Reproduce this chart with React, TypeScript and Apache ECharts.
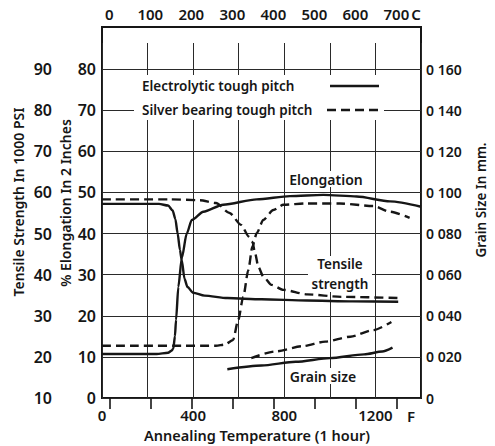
import React, { useEffect, useRef } from "react";
import * as echarts from "echarts";

// Annealing temperature (F) and values
const elecTensileTemp = [0, 250, 290, 310, 322, 332, 342, 350, 362, 375, 400, 450, 550, 700, 900, 1100, 1300];
const elecTensile = [57.2, 57.2, 56.8, 55.6, 53.5, 50.0, 46.0, 43.5, 39.0, 37.0, 35.6, 34.9, 34.3, 34.0, 33.7, 33.5, 33.4];

const silverTensileTemp = [0, 300, 430, 500, 560, 610, 645, 660, 672, 686, 708, 744, 796, 900, 1050, 1300];
const silverTensile = [58.3, 58.3, 58.1, 57.4, 55.0, 52.1, 49.2, 48.0, 45.2, 41.9, 39.5, 37.5, 36.3, 35.2, 34.6, 34.3];

const elecElongTemp = [0, 240, 290, 305, 313, 320, 325, 335, 350, 372, 394, 445, 532, 679, 825, 971, 1118, 1264, 1400];
const elecElong = [10.7, 10.7, 11.0, 11.5, 12.0, 15.0, 19.0, 27.0, 34.0, 40.0, 43.3, 45.3, 47.0, 48.3, 49.1, 49.4, 49.0, 47.8, 46.5];

const silverElongTemp = [0, 500, 540, 575, 598, 620, 642, 660, 679, 708, 752, 796, 898, 1044, 1190, 1264, 1350];
const silverElong = [12.7, 12.7, 13.0, 14.1, 19.0, 24.6, 31.1, 36.8, 40.1, 43.3, 45.7, 47.0, 47.3, 47.3, 46.7, 45.3, 43.8];

const elecGrainTemp = [550, 700, 850, 1000, 1150, 1230, 1275];
const elecGrain = [0.014, 0.0158, 0.0176, 0.0194, 0.0212, 0.0226, 0.0245];

const silverGrainTemp = [655, 760, 880, 980, 1090, 1190, 1270];
const silverGrain = [0.0194, 0.0226, 0.0252, 0.0274, 0.0298, 0.033, 0.037];

const elongTicks = [0, 80, 10];
const tensileTicks = [10, 90, 10];
const grainTicks = [0, 0.16, 0.02];
const celsiusTicks = [0, 700, 100];

const FONT = "Noto Sans";
const INK = "#161616";
const W = 600;

const zip = (xs: number[], ys: number[]) => xs.map((x, i) => [x, ys[i]]);

function buildOption() {
  const L = 102, R = 74, B = 48;
  const lineSolid = { color: INK, width: 2.4, type: "solid" as const };
  const lineDash = { color: INK, width: 2.4, type: [9, 5] as any };
  const mk = (name: string, xs: number[], ys: number[], yIdx: number, dashed: boolean) => ({
    name,
    type: "line",
    xAxisIndex: 1,
    yAxisIndex: yIdx,
    data: zip(xs, ys),
    showSymbol: false,
    smooth: 0.25,
    smoothMonotone: "x",
    lineStyle: dashed ? lineDash : lineSolid,
    z: 3,
  });
  const txt = (text: string, x: number, y: number, size: number, rot = 0, align = "center") => ({
    type: "text",
    x,
    y,
    rotation: rot,
    z: 10,
    style: { text, fill: INK, font: `${W} ${size}px "${FONT}"`, textAlign: align, textVerticalAlign: "middle" },
  });
  const white = (x: number, y: number, w: number, h: number) => ({
    type: "rect",
    z: 9,
    shape: { x, y, width: w, height: h },
    style: { fill: "#fff" },
  });
  const grainFmt = (v: number) => {
    const n = Math.round(v * 1000);
    return n === 0 ? "0" : "0 " + String(n).padStart(3, "0");
  };
  const lbl = (size: number, margin: number, extra: any = {}) => ({
    margin, color: INK, fontFamily: FONT, fontSize: size, fontWeight: W, ...extra,
  });
  return {
    animation: false,
    backgroundColor: "#fff",
    grid: [
      { left: L, right: R, top: 27, bottom: B, show: true, borderColor: INK, borderWidth: 2, backgroundColor: "transparent" },
      { left: L, right: R, top: 69, bottom: B },
      { left: L, right: R, top: 43, bottom: B },
      { left: 109.3, right: 98.6, top: 27, bottom: B },
    ],
    xAxis: [
      {
        gridIndex: 0, type: "value", min: 0, max: 1400, interval: 200,
        axisLine: { show: false }, axisTick: { show: false }, splitLine: { show: false },
        axisLabel: lbl(15, 9, { formatter: (v: number) => (v % 400 === 0 && v < 1400 ? String(v) : "") }),
      },
      { gridIndex: 1, type: "value", min: 0, max: 1400, show: false },
      {
        gridIndex: 2, type: "value", min: 0, max: 1400, interval: 200,
        axisLine: { show: false }, axisTick: { show: false }, axisLabel: { show: false },
        splitLine: { show: true, lineStyle: { color: "#2a2a2a", width: 1 } },
      },
      {
        gridIndex: 3, type: "value", position: "top", min: celsiusTicks[0], max: celsiusTicks[1], interval: celsiusTicks[2],
        axisLine: { show: false }, splitLine: { show: false },
        axisTick: { show: true, inside: true, length: 11, lineStyle: { color: INK, width: 1.6 } },
        axisLabel: lbl(15, 6),
      },
    ],
    yAxis: [
      { gridIndex: 0, type: "value", min: 0, max: 1, show: false },
      {
        gridIndex: 1, type: "value", position: "left", min: elongTicks[0], max: elongTicks[1], interval: elongTicks[2],
        axisLine: { show: false }, axisTick: { show: false },
        splitLine: { show: true, lineStyle: { color: "#2a2a2a", width: 1 } },
        axisLabel: lbl(16, 6),
      },
      {
        gridIndex: 1, type: "value", position: "left", offset: 44, min: tensileTicks[0], max: tensileTicks[1], interval: tensileTicks[2],
        axisLine: { show: false }, axisTick: { show: false }, splitLine: { show: false },
        axisLabel: lbl(16, 6),
      },
      {
        gridIndex: 1, type: "value", position: "right", min: grainTicks[0], max: grainTicks[1], interval: grainTicks[2],
        axisLine: { show: false }, axisTick: { show: false }, splitLine: { show: false },
        axisLabel: lbl(14, 5, { formatter: grainFmt }),
      },
      { gridIndex: 2, type: "value", min: 0, max: 1, show: false },
      { gridIndex: 3, type: "value", min: 0, max: 1, show: false },
    ],
    series: [
      mk("Electrolytic tensile", elecTensileTemp, elecTensile, 2, false),
      mk("Silver tensile", silverTensileTemp, silverTensile, 2, true),
      mk("Electrolytic elongation", elecElongTemp, elecElong, 1, false),
      mk("Silver elongation", silverElongTemp, silverElong, 1, true),
      mk("Electrolytic grain", elecGrainTemp, elecGrain, 3, false),
      mk("Silver grain", silverGrainTemp, silverGrain, 3, true),
    ],
    graphic: [
      // legend block
      white(134, 75, 250, 45),
      txt("Electrolytic tough pitch", 142, 86, 13.5, 0, "left"),
      txt("Silver bearing tough pitch", 142, 110, 13.5, 0, "left"),
      { type: "line", z: 10, shape: { x1: 330, y1: 86, x2: 379, y2: 86 }, style: { stroke: INK, lineWidth: 2.4 } },
      { type: "line", z: 10, shape: { x1: 327, y1: 110, x2: 382, y2: 110 }, style: { stroke: INK, lineWidth: 2.4, lineDash: [9, 5] } },
      // curve labels
      white(288, 171, 76, 16),
      txt("Elongation", 326, 179, 14),
      white(308, 256, 64, 36),
      txt("Tensile", 340, 264, 13.5),
      txt("strength", 340, 284, 13.5),
      white(287, 368, 72, 16),
      txt("Grain size", 323, 376, 14),
      // unit marks
      txt("C", 416, 14, 15),
      txt("F", 411, 416, 15),
      // axis titles
      txt("Tensile Strength In 1000 PSI", 18, 202, 14, Math.PI / 2),
      txt("% Elongation In 2 Inches", 65, 203, 14, Math.PI / 2),
      txt("Grain Size In mm.", 481, 200, 13.5, Math.PI / 2),
      txt("Annealing Temperature (1 hour)", 257, 435, 14.5),
    ],
  };
}

export default function App() {
  const ref = useRef<HTMLDivElement>(null);
  useEffect(() => {
    const chart = echarts.init(ref.current!, null, { renderer: "svg" });
    chart.setOption(buildOption() as any);
    return () => chart.dispose();
  }, []);
  return <div ref={ref} style={{ position: "fixed", left: 0, top: 0, width: 495, height: 446 }} />;
}
